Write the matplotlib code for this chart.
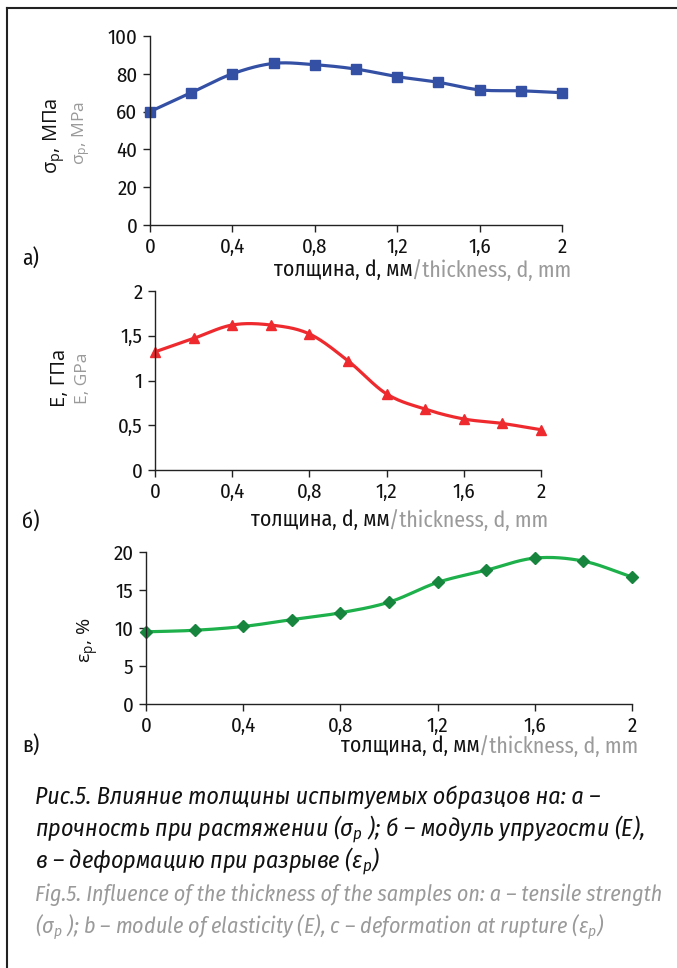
import numpy as np
import matplotlib
matplotlib.use("Agg")
import matplotlib.pyplot as plt
from matplotlib.lines import Line2D

plt.rcParams["mathtext.fontset"] = "custom"
plt.rcParams["mathtext.rm"] = "Fira Sans Condensed"
plt.rcParams["mathtext.it"] = "Fira Sans Condensed:italic"

NARROW = ["Fira Sans Condensed", "DejaVu Sans"]
LABEL = ["Open Sans", "DejaVu Sans"]
GREY = "#9a9a9a"
INK = "#111111"

thickness = [0, 0.2, 0.4, 0.6, 0.8, 1.0, 1.2, 1.4, 1.6, 1.8, 2.0]
strength = [60, 70, 80, 85.5, 84.8, 82.5, 78.5, 75.5, 71.5, 71, 70]
modulus = [1.32, 1.47, 1.62, 1.62, 1.52, 1.22, 0.85, 0.68, 0.57, 0.52, 0.45]
elongation = [9.5, 9.7, 10.2, 11.1, 12.0, 13.4, 16.0, 17.6, 19.2, 18.8, 16.7]

xticks = [0, 0.4, 0.8, 1.2, 1.6, 2.0]
xticklabels = ["0", "0,4", "0,8", "1,2", "1,6", "2"]

W, H = 677, 968
fig = plt.figure(figsize=(W / 100, H / 100), dpi=100)


def smooth(x, y, n=24):
    # catmull-rom, like the smoothed lines in excel
    x = np.asarray(x, float)
    y = np.asarray(y, float)
    px = np.concatenate([[2 * x[0] - x[1]], x, [2 * x[-1] - x[-2]]])
    py = np.concatenate([[2 * y[0] - y[1]], y, [2 * y[-1] - y[-2]]])
    xs, ys = [], []
    t = np.linspace(0, 1, n, endpoint=False)
    for i in range(1, len(px) - 2):
        for p, out in ((px, xs), (py, ys)):
            p0, p1, p2, p3 = p[i - 1], p[i], p[i + 1], p[i + 2]
            out.extend(0.5 * ((2 * p1) + (-p0 + p2) * t
                              + (2 * p0 - 5 * p1 + 4 * p2 - p3) * t ** 2
                              + (-p0 + 3 * p1 - 3 * p2 + p3) * t ** 3))
    xs.append(x[-1])
    ys.append(y[-1])
    return xs, ys


def px_axes(x0, x1, y_top, y_bot):
    return fig.add_axes([x0 / W, 1 - y_bot / H, (x1 - x0) / W, (y_bot - y_top) / H])


def panel(ax, y, ylim, yticks, yticklabels, color, mcolor, marker, ms):
    xs, ys = smooth(thickness, y)
    ax.plot(xs, ys, color=color, lw=2.3, solid_capstyle="round", clip_on=False)
    ax.plot(thickness, y, ls="none", marker=marker, ms=ms, color=mcolor, clip_on=False)
    ax.set_xlim(0, 2)
    ax.set_ylim(*ylim)
    ax.set_xticks(xticks)
    ax.set_xticklabels(xticklabels)
    ax.set_yticks(yticks)
    ax.set_yticklabels(yticklabels)
    for s in ("top", "right"):
        ax.spines[s].set_visible(False)
    for s in ("left", "bottom"):
        ax.spines[s].set_linewidth(1.0)
        ax.spines[s].set_color("#222222")
    ax.tick_params(direction="out", length=5, width=1, color="#222222", pad=4)
    for lab in ax.get_xticklabels() + ax.get_yticklabels():
        lab.set_family(NARROW)
        lab.set_fontsize(15)
        lab.set_color(INK)
    ax.set_facecolor("none")


def xlabel(x_right, y):
    r = fig.canvas.get_renderer()
    g = fig.text(x_right / W, 1 - y / H, "/thickness, d, mm", ha="right", va="center",
                 family=NARROW, fontsize=15.7, color=GREY)
    bb = g.get_window_extent(r)
    fig.text(bb.x0 / W + 0.002, 1 - y / H, "толщина, d, мм", ha="right", va="center",
             family=NARROW, fontsize=15.7, color=INK)


def ylabel(x, y, text, color, size):
    fig.text(x / W, 1 - y / H, text, rotation=90, ha="center", va="center",
             family=LABEL, fontsize=size, color=color)


def tag(y, text):
    fig.text(22 / W, 1 - y / H, text, ha="left", va="center", family=NARROW,
             fontsize=15.5, color=INK)


# а) tensile strength
ax1 = px_axes(150, 562, 36, 225)
panel(ax1, strength, (0, 100), [0, 20, 40, 60, 80, 100],
      ["0", "20", "40", "60", "80", "100"], "#3450a5", "#3450a5", "s", 6.5)
ylabel(54, 136, "σ$_\\mathregular{p}$, МПа", INK, 14.5)
ylabel(81, 133, "σ$_\\mathregular{p}$, MPa", GREY, 12.5)
xlabel(571, 270)
tag(258, "а)")

# б) modulus of elasticity
ax2 = px_axes(155, 541, 291, 470)
panel(ax2, modulus, (0, 2), [0, 0.5, 1, 1.5, 2],
      ["0", "0,5", "1", "1,5", "2"], "#ee2a2e", "#ee2a2e", "^", 7.5)
ylabel(60, 378, "E, ГПа", INK, 14.5)
ylabel(83, 378, "E, GPa", GREY, 12.5)
xlabel(548, 520)
tag(521, "б)")

# в) elongation at rupture
ax3 = px_axes(146, 632, 552, 704)
panel(ax3, elongation, (0, 20), [0, 5, 10, 15, 20],
      ["0", "5", "10", "15", "20"], "#1db04b", "#17853d", "D", 6)
ylabel(88, 640, "ε$_\\mathregular{p}$, %", INK, 14)
xlabel(638, 746)
tag(745, "в)")

# caption
cap_ru = [
    "Рис.5. Влияние толщины испытуемых образцов на: а –",
    "прочность при растяжении (σ$_p$ ); б – модуль упругости (E),",
    "в – деформацию при разрыве (ε$_p$)",
]
cap_en = [
    "Fig.5. Influence of the thickness of the samples on: a – tensile strength",
    "(σ$_p$ ); b – module of elasticity (E), c – deformation at rupture (ε$_p$)",
]
y0 = 797
for i, line in enumerate(cap_ru):
    fig.text(35 / W, 1 - (y0 + 32.5 * i) / H, line, ha="left", va="center",
             family=NARROW, style="italic", fontsize=17.2, color=INK)
for i, line in enumerate(cap_en):
    fig.text(35 / W, 1 - (y0 + 32.5 * (i + 3)) / H, line, ha="left", va="center",
             family=NARROW, style="italic", fontsize=15.8, color=GREY)

# frame
fig.add_artist(Line2D([7 / W, 1], [1 - 8 / H, 1 - 8 / H], transform=fig.transFigure,
                      color="#222222", lw=1.5))
fig.add_artist(Line2D([7 / W, 7 / W], [0, 1 - 8 / H], transform=fig.transFigure,
                      color="#222222", lw=1.5))

fig.savefig("out.png", dpi=100)
